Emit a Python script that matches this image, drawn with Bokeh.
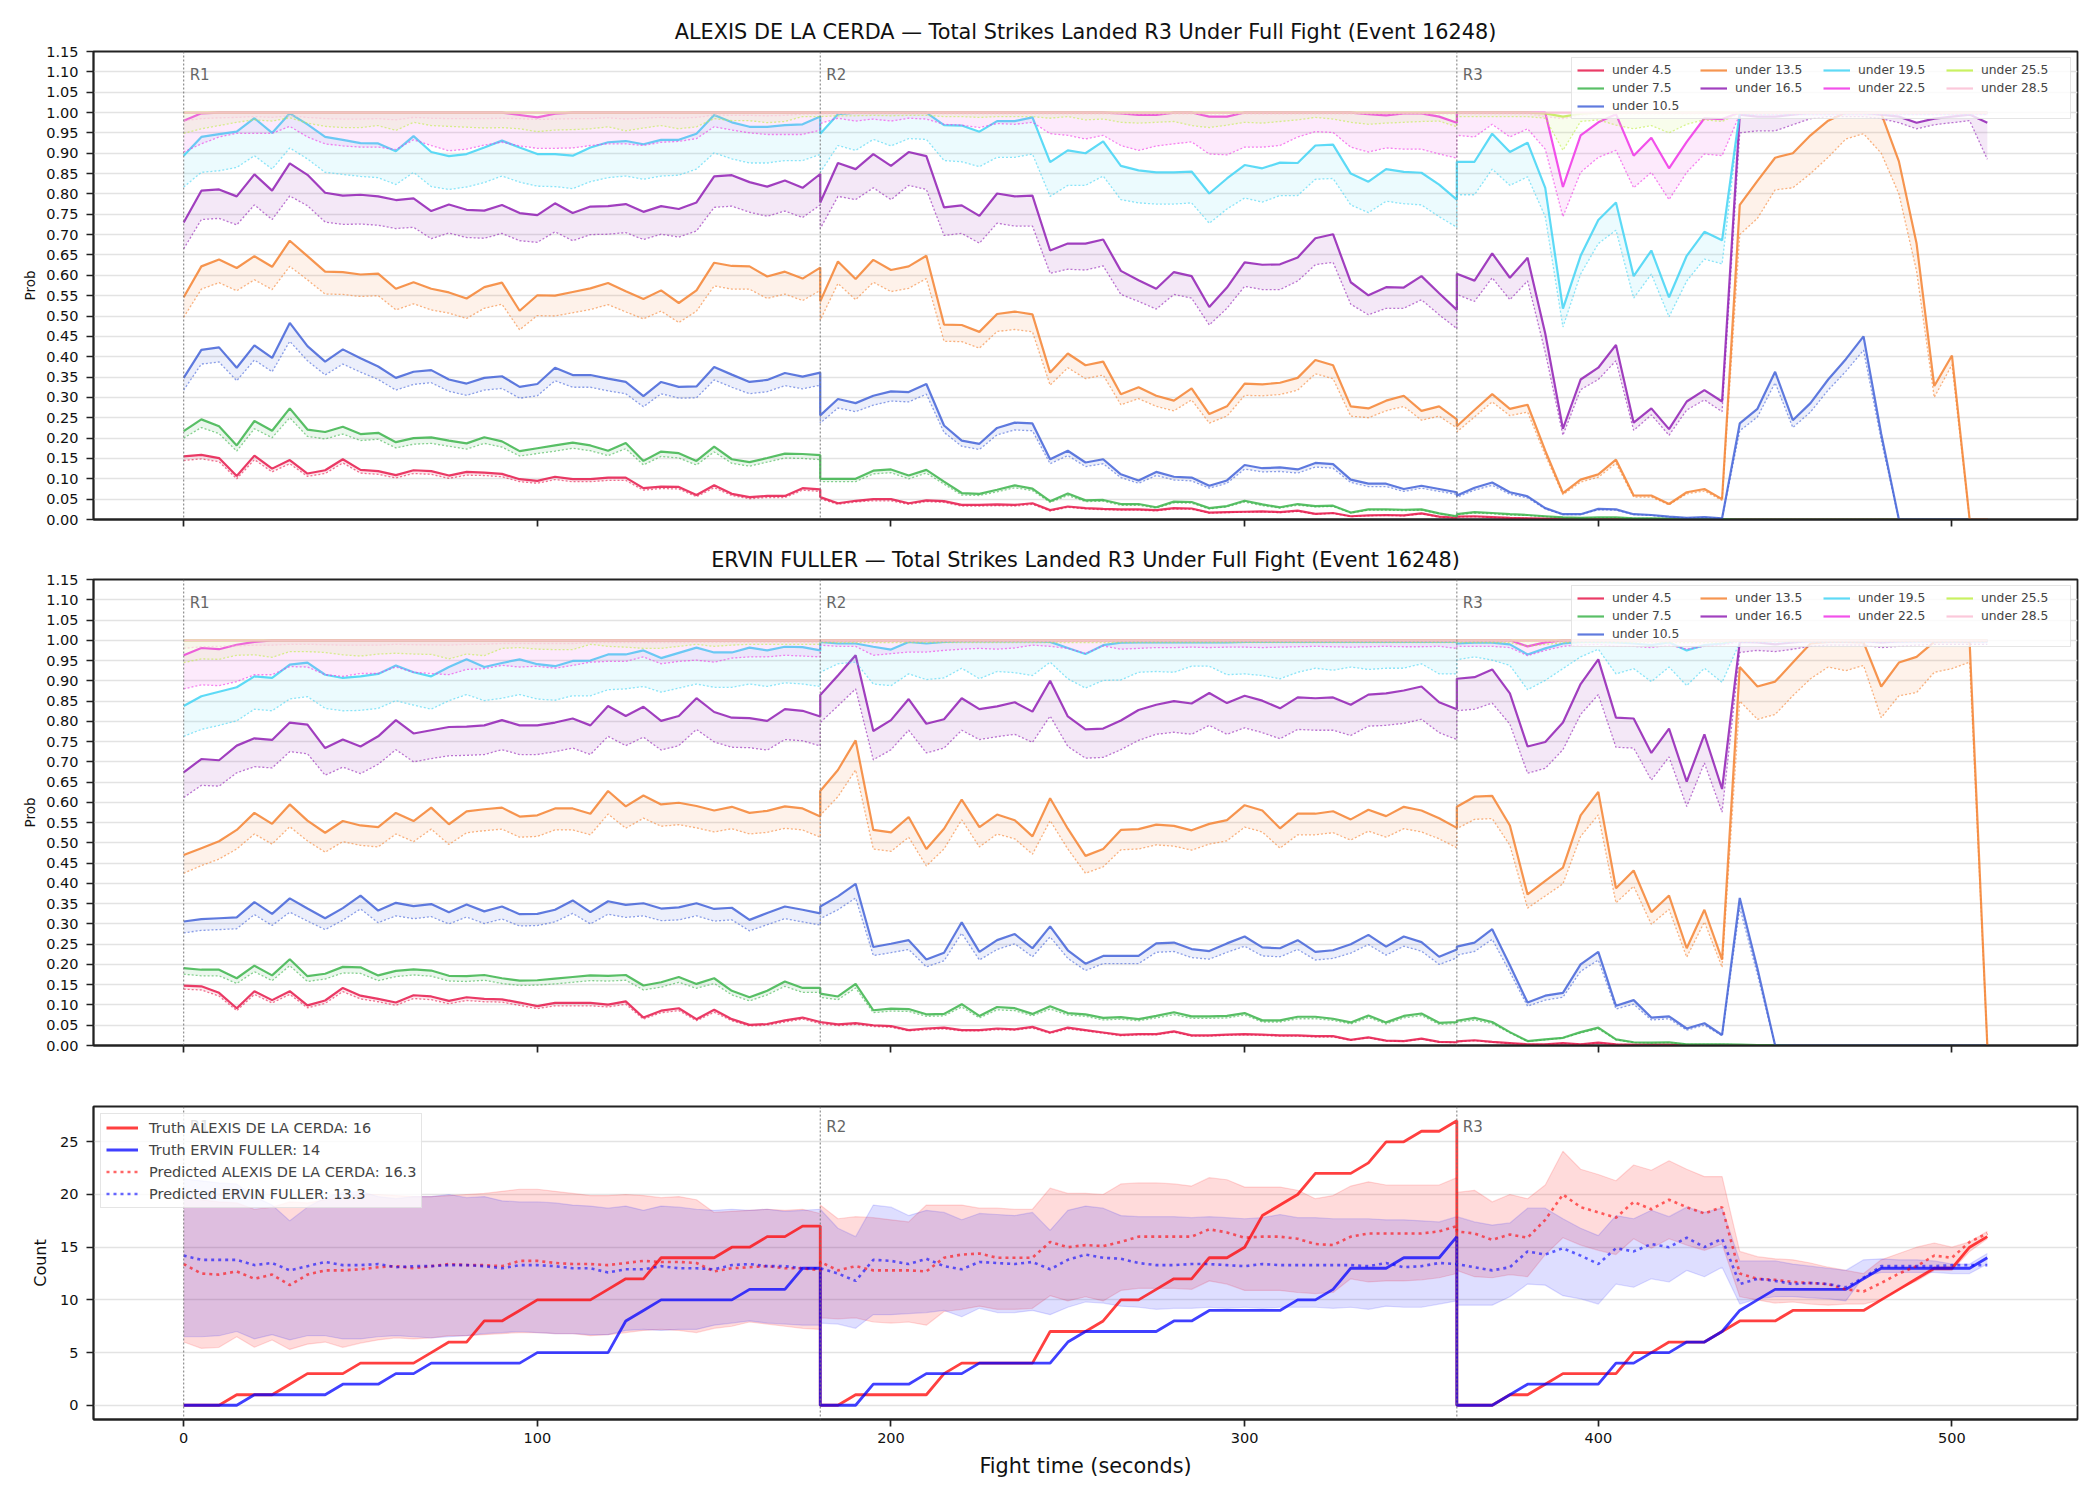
import numpy as np
from bokeh.embed import file_html
from bokeh.layouts import column
from bokeh.models import (CustomJSTickFormatter, FixedTicker, Label, Legend,
                          LegendItem, NumeralTickFormatter, Range1d, Span)
from bokeh.plotting import figure
from bokeh.resources import INLINE

# ---------------------------------------------------------------------------
# Sampling grid: one reading every 5 s, each round restarts at its boundary
# ---------------------------------------------------------------------------
STEP = 5
ROUND_BOUNDS = [(0, 180), (180, 360), (360, 510)]
ROUND_NAMES = ["R1", "R2", "R3"]

FIGHTER_A = "ALEXIS DE LA CERDA"
FIGHTER_E = "ERVIN FULLER"
MARKET = "Total Strikes Landed R3 Under Full Fight"
EVENT_ID = 16248

THRESHOLDS = ["under 4.5", "under 7.5", "under 10.5", "under 13.5", "under 16.5",
              "under 19.5", "under 22.5", "under 25.5", "under 28.5"]
LINE_COLORS = ["#e6194B", "#3cb44b", "#4363d8", "#f58231", "#911eb4",
               "#42d4f4", "#f032e6", "#bfef45", "#fabed4"]

PROB_TICKS = [0.00, 0.05, 0.10, 0.15, 0.20, 0.25, 0.30, 0.35, 0.40, 0.45, 0.50, 0.55,
              0.60, 0.65, 0.70, 0.75, 0.80, 0.85, 0.90, 0.95, 1.00, 1.05, 1.10, 1.15]
COUNT_TICKS = [0, 5, 10, 15, 20, 25]
TIME_TICKS = [0, 100, 200, 300, 400, 500]

# ---------------------------------------------------------------------------
# ALEXIS DE LA CERDA: model probability (solid) and lower estimate (dotted)
# ---------------------------------------------------------------------------
ALEXIS_U4_5 = (
    [0.155, 0.159, 0.151, 0.107, 0.157, 0.125, 0.146, 0.113, 0.121, 0.148, 0.122, 0.119, 0.109,
     0.121, 0.119, 0.108, 0.117, 0.115, 0.112, 0.099, 0.095, 0.105, 0.099, 0.099, 0.103, 0.103,
     0.077, 0.081, 0.080, 0.060, 0.084, 0.063, 0.055, 0.058, 0.058, 0.077, 0.074]
    + [0.055, 0.040, 0.046, 0.050, 0.050, 0.040, 0.047, 0.045, 0.036, 0.036, 0.037, 0.036, 0.040,
       0.023, 0.032, 0.028, 0.026, 0.025, 0.025, 0.023, 0.028, 0.027, 0.017, 0.018, 0.019, 0.020,
       0.018, 0.022, 0.014, 0.016, 0.008, 0.010, 0.011, 0.010, 0.015, 0.007, 0.004]
    + [0.007, 0.008, 0.006, 0.004, 0.003, 0.002, 0.002, 0.002, 0.001, 0.001, 0.001, 0.001]
    + [0.0] * 19
)
ALEXIS_U4_5_LO = (
    [0.145, 0.149, 0.142, 0.100, 0.147, 0.117, 0.137, 0.106, 0.113, 0.139, 0.114, 0.111, 0.102,
     0.113, 0.111, 0.101, 0.109, 0.108, 0.105, 0.093, 0.089, 0.098, 0.093, 0.093, 0.096, 0.096,
     0.072, 0.076, 0.075, 0.056, 0.078, 0.059, 0.051, 0.054, 0.054, 0.072, 0.069]
    + [0.051, 0.037, 0.043, 0.046, 0.046, 0.037, 0.044, 0.042, 0.033, 0.033, 0.034, 0.033, 0.037,
       0.021, 0.030, 0.026, 0.024, 0.023, 0.023, 0.021, 0.026, 0.025, 0.016, 0.017, 0.018, 0.019,
       0.017, 0.020, 0.013, 0.015, 0.007, 0.009, 0.010, 0.009, 0.014, 0.006, 0.004]
    + [0.006, 0.007, 0.005, 0.004, 0.003, 0.002, 0.002, 0.002, 0.001, 0.001, 0.001, 0.001]
    + [0.0] * 19
)
ALEXIS_U7_5 = (
    [0.217, 0.246, 0.229, 0.182, 0.242, 0.218, 0.273, 0.221, 0.215, 0.228, 0.210, 0.213, 0.190,
     0.200, 0.202, 0.194, 0.187, 0.202, 0.192, 0.168, 0.175, 0.182, 0.189, 0.182, 0.169, 0.188,
     0.144, 0.167, 0.163, 0.144, 0.179, 0.148, 0.141, 0.151, 0.162, 0.161, 0.158]
    + [0.100, 0.100, 0.100, 0.120, 0.123, 0.108, 0.122, 0.093, 0.065, 0.063, 0.073, 0.084, 0.076,
       0.045, 0.064, 0.047, 0.048, 0.038, 0.038, 0.030, 0.044, 0.043, 0.028, 0.033, 0.046, 0.037,
       0.030, 0.038, 0.033, 0.034, 0.017, 0.025, 0.025, 0.024, 0.025, 0.015, 0.008]
    + [0.013, 0.018, 0.016, 0.013, 0.011, 0.008, 0.005, 0.004, 0.005, 0.005, 0.003, 0.003, 0.002,
       0.001, 0.001, 0.001]
    + [0.0] * 15
)
ALEXIS_U7_5_LO = (
    [0.200, 0.226, 0.211, 0.168, 0.223, 0.201, 0.250, 0.204, 0.198, 0.210, 0.194, 0.197, 0.176,
     0.185, 0.187, 0.180, 0.173, 0.187, 0.178, 0.156, 0.162, 0.168, 0.175, 0.169, 0.157, 0.174,
     0.134, 0.155, 0.151, 0.134, 0.166, 0.138, 0.131, 0.141, 0.151, 0.150, 0.147]
    + [0.093, 0.093, 0.093, 0.112, 0.115, 0.100, 0.114, 0.087, 0.060, 0.059, 0.068, 0.078, 0.071,
       0.042, 0.059, 0.044, 0.045, 0.035, 0.035, 0.028, 0.041, 0.040, 0.026, 0.031, 0.043, 0.034,
       0.028, 0.035, 0.031, 0.032, 0.016, 0.023, 0.023, 0.022, 0.023, 0.014, 0.007]
    + [0.012, 0.016, 0.014, 0.011, 0.010, 0.007, 0.004, 0.003, 0.004, 0.004, 0.003, 0.003, 0.002,
       0.001, 0.001, 0.001]
    + [0.0] * 15
)
ALEXIS_U10_5 = (
    [0.348, 0.417, 0.423, 0.373, 0.428, 0.397, 0.483, 0.426, 0.388, 0.418, 0.396, 0.376, 0.348,
     0.363, 0.367, 0.344, 0.334, 0.348, 0.352, 0.326, 0.333, 0.373, 0.355, 0.355, 0.346, 0.338,
     0.303, 0.338, 0.326, 0.327, 0.375, 0.356, 0.338, 0.343, 0.360, 0.351, 0.361]
    + [0.256, 0.296, 0.286, 0.304, 0.315, 0.313, 0.333, 0.231, 0.194, 0.186, 0.225, 0.238, 0.236,
       0.148, 0.169, 0.140, 0.148, 0.111, 0.096, 0.117, 0.105, 0.103, 0.083, 0.096, 0.134, 0.126,
       0.128, 0.123, 0.139, 0.136, 0.098, 0.088, 0.088, 0.075, 0.083, 0.075, 0.067]
    + [0.059, 0.078, 0.091, 0.067, 0.057, 0.028, 0.013, 0.013, 0.026, 0.025, 0.013, 0.011, 0.007,
       0.004, 0.006, 0.003, 0.236, 0.272, 0.363, 0.244, 0.286, 0.344, 0.394, 0.450, 0.210,
       0.0, 0.0, 0.0, 0.0, 0.0, 0.0]
)
ALEXIS_U10_5_LO = (
    [0.318, 0.382, 0.387, 0.341, 0.392, 0.363, 0.438, 0.390, 0.355, 0.382, 0.362, 0.344, 0.318,
     0.332, 0.336, 0.315, 0.305, 0.318, 0.322, 0.298, 0.304, 0.341, 0.325, 0.325, 0.316, 0.309,
     0.277, 0.309, 0.298, 0.299, 0.343, 0.325, 0.309, 0.314, 0.329, 0.321, 0.330]
    + [0.237, 0.274, 0.265, 0.281, 0.291, 0.289, 0.308, 0.214, 0.180, 0.172, 0.208, 0.220, 0.218,
       0.137, 0.157, 0.130, 0.137, 0.103, 0.089, 0.108, 0.097, 0.095, 0.077, 0.089, 0.124, 0.117,
       0.118, 0.114, 0.129, 0.126, 0.091, 0.081, 0.081, 0.069, 0.077, 0.069, 0.062]
    + [0.055, 0.072, 0.084, 0.062, 0.053, 0.026, 0.012, 0.012, 0.024, 0.023, 0.012, 0.010, 0.006,
       0.004, 0.005, 0.003, 0.218, 0.252, 0.336, 0.226, 0.264, 0.318, 0.364, 0.416, 0.195,
       0.0, 0.0, 0.0, 0.0, 0.0, 0.0]
)
ALEXIS_U13_5 = (
    [0.546, 0.622, 0.639, 0.618, 0.647, 0.621, 0.685, 0.647, 0.609, 0.608, 0.602, 0.604, 0.567,
     0.583, 0.567, 0.558, 0.543, 0.571, 0.582, 0.513, 0.551, 0.550, 0.559, 0.568, 0.581, 0.561,
     0.542, 0.563, 0.532, 0.563, 0.631, 0.623, 0.622, 0.597, 0.609, 0.592, 0.619]
    + [0.536, 0.634, 0.591, 0.638, 0.613, 0.622, 0.648, 0.479, 0.478, 0.461, 0.505, 0.511, 0.504,
       0.361, 0.408, 0.379, 0.388, 0.308, 0.325, 0.304, 0.292, 0.322, 0.259, 0.278, 0.334, 0.332,
       0.336, 0.348, 0.392, 0.379, 0.278, 0.273, 0.292, 0.304, 0.267, 0.278, 0.246]
    + [0.229, 0.269, 0.308, 0.272, 0.282, 0.169, 0.065, 0.098, 0.111, 0.147, 0.059, 0.059, 0.038,
       0.067, 0.075, 0.050, 0.773, 0.832, 0.889, 0.900, 0.944, 0.980, 1.000, 1.000, 0.998,
       0.880, 0.678, 0.328, 0.403, 0.0, 0.0]
)
ALEXIS_U13_5_LO = (
    [0.497, 0.566, 0.582, 0.562, 0.589, 0.565, 0.622, 0.589, 0.554, 0.553, 0.548, 0.550, 0.515,
     0.530, 0.515, 0.507, 0.494, 0.519, 0.529, 0.466, 0.501, 0.500, 0.508, 0.516, 0.528, 0.510,
     0.493, 0.512, 0.484, 0.512, 0.574, 0.566, 0.566, 0.543, 0.554, 0.538, 0.563]
    + [0.490, 0.580, 0.540, 0.583, 0.560, 0.568, 0.592, 0.438, 0.437, 0.421, 0.462, 0.467, 0.461,
       0.330, 0.373, 0.346, 0.355, 0.282, 0.297, 0.278, 0.267, 0.294, 0.237, 0.254, 0.305, 0.304,
       0.307, 0.318, 0.358, 0.346, 0.254, 0.250, 0.267, 0.278, 0.244, 0.254, 0.225]
    + [0.215, 0.252, 0.289, 0.255, 0.264, 0.158, 0.061, 0.092, 0.104, 0.138, 0.055, 0.055, 0.036,
       0.063, 0.070, 0.047, 0.700, 0.740, 0.810, 0.815, 0.850, 0.890, 0.935, 0.948, 0.900,
       0.800, 0.610, 0.300, 0.380, 0.0, 0.0]
)
ALEXIS_U16_5 = (
    [0.730, 0.808, 0.811, 0.794, 0.848, 0.808, 0.875, 0.847, 0.803, 0.796, 0.798, 0.794, 0.785,
     0.789, 0.758, 0.774, 0.761, 0.759, 0.773, 0.753, 0.748, 0.777, 0.753, 0.769, 0.770, 0.775,
     0.756, 0.770, 0.763, 0.779, 0.843, 0.846, 0.829, 0.818, 0.833, 0.815, 0.849]
    + [0.779, 0.876, 0.861, 0.898, 0.869, 0.903, 0.893, 0.767, 0.772, 0.746, 0.801, 0.794, 0.796,
       0.661, 0.678, 0.678, 0.688, 0.611, 0.588, 0.567, 0.608, 0.598, 0.522, 0.570, 0.632, 0.626,
       0.627, 0.644, 0.691, 0.701, 0.583, 0.551, 0.571, 0.570, 0.598, 0.556, 0.515]
    + [0.604, 0.587, 0.654, 0.594, 0.643, 0.457, 0.223, 0.344, 0.373, 0.429, 0.238, 0.273, 0.222,
       0.290, 0.318, 0.290, 0.995, 0.990, 0.990, 0.995, 1.000, 1.000, 1.000, 1.000, 0.995,
       0.990, 0.975, 0.985, 0.990, 0.995, 0.975]
)
ALEXIS_U16_5_LO = (
    [0.665, 0.737, 0.740, 0.724, 0.773, 0.737, 0.795, 0.771, 0.731, 0.725, 0.726, 0.723, 0.715,
     0.718, 0.690, 0.704, 0.693, 0.691, 0.703, 0.685, 0.681, 0.707, 0.685, 0.700, 0.701, 0.705,
     0.688, 0.701, 0.694, 0.709, 0.767, 0.770, 0.755, 0.745, 0.758, 0.742, 0.773]
    + [0.715, 0.794, 0.786, 0.815, 0.786, 0.821, 0.811, 0.698, 0.703, 0.679, 0.728, 0.721, 0.721,
       0.605, 0.615, 0.613, 0.623, 0.553, 0.536, 0.517, 0.553, 0.544, 0.478, 0.519, 0.573, 0.565,
       0.565, 0.586, 0.626, 0.632, 0.529, 0.503, 0.519, 0.519, 0.540, 0.503, 0.469]
    + [0.553, 0.536, 0.594, 0.540, 0.586, 0.411, 0.207, 0.319, 0.344, 0.390, 0.219, 0.257, 0.207,
       0.269, 0.294, 0.265, 0.950, 0.955, 0.955, 0.970, 0.985, 0.990, 0.990, 0.990, 0.985,
       0.975, 0.960, 0.970, 0.975, 0.980, 0.885]
)
ALEXIS_U19_5 = (
    [0.894, 0.940, 0.947, 0.953, 0.986, 0.950, 0.998, 0.971, 0.940, 0.933, 0.925, 0.924, 0.905,
     0.942, 0.903, 0.893, 0.898, 0.914, 0.931, 0.914, 0.898, 0.898, 0.894, 0.914, 0.927, 0.930,
     0.922, 0.933, 0.933, 0.948, 0.994, 0.976, 0.965, 0.965, 0.969, 0.971, 0.990]
    + [0.948, 0.996, 1.000, 1.000, 1.000, 1.000, 1.000, 0.969, 0.968, 0.953, 0.979, 0.979, 0.988,
       0.878, 0.907, 0.900, 0.929, 0.869, 0.858, 0.853, 0.853, 0.855, 0.801, 0.838, 0.871, 0.863,
       0.877, 0.876, 0.919, 0.921, 0.850, 0.830, 0.861, 0.854, 0.852, 0.823, 0.786]
    + [0.879, 0.879, 0.948, 0.903, 0.926, 0.815, 0.518, 0.648, 0.736, 0.779, 0.598, 0.661, 0.546,
       0.648, 0.707, 0.686]
    + [1.0] * 15
)
ALEXIS_U19_5_LO = (
    [0.817, 0.853, 0.857, 0.865, 0.894, 0.861, 0.913, 0.886, 0.853, 0.848, 0.843, 0.840, 0.823,
     0.853, 0.818, 0.811, 0.817, 0.828, 0.844, 0.829, 0.819, 0.818, 0.813, 0.830, 0.840, 0.844,
     0.836, 0.844, 0.846, 0.861, 0.901, 0.886, 0.876, 0.876, 0.882, 0.882, 0.897]
    + [0.853, 0.919, 0.907, 0.934, 0.918, 0.936, 0.934, 0.882, 0.879, 0.867, 0.890, 0.890, 0.898,
       0.794, 0.821, 0.821, 0.844, 0.786, 0.778, 0.775, 0.775, 0.778, 0.728, 0.763, 0.790, 0.780,
       0.796, 0.796, 0.836, 0.838, 0.773, 0.754, 0.782, 0.776, 0.773, 0.744, 0.718]
    + [0.798, 0.798, 0.861, 0.821, 0.842, 0.744, 0.473, 0.603, 0.678, 0.711, 0.544, 0.603, 0.498,
       0.586, 0.640, 0.628]
    + [0.995] * 15
)
ALEXIS_U22_5 = (
    [0.980, 0.998] + [1.0] * 17 + [0.994, 0.988, 0.997] + [1.0] * 15
    + [1.0] * 17 + [0.998, 0.994, 0.994, 1.000, 1.000, 0.990, 0.990] + [1.0] * 7
    + [0.996, 0.993, 0.998, 0.998, 0.990, 0.975]
    + [1.0] * 6 + [0.817, 0.944, 0.976, 0.996, 0.894, 0.938, 0.863, 0.928, 0.986, 0.984]
    + [1.0] * 15
)
ALEXIS_U22_5_LO = (
    [0.903, 0.923, 0.940, 0.949, 0.949, 0.949, 0.966, 0.940, 0.923, 0.918, 0.915, 0.915, 0.909,
     0.933, 0.919, 0.906, 0.910, 0.920, 0.927, 0.918, 0.912, 0.912, 0.913, 0.919, 0.923, 0.923,
     0.919, 0.927, 0.929, 0.936, 0.965, 0.957, 0.950, 0.946, 0.946, 0.946, 0.957]
    + [0.973, 0.986, 0.979, 0.984, 0.979, 0.986, 0.984, 0.971, 0.969, 0.963, 0.973, 0.971, 0.976,
       0.948, 0.944, 0.935, 0.944, 0.919, 0.907, 0.918, 0.923, 0.928, 0.898, 0.896, 0.915, 0.915,
       0.919, 0.940, 0.953, 0.951, 0.915, 0.903, 0.913, 0.910, 0.910, 0.898, 0.888]
    + [0.944, 0.940, 0.971, 0.940, 0.960, 0.910, 0.744, 0.853, 0.890, 0.907, 0.815, 0.853, 0.786,
       0.853, 0.898, 0.894]
    + [0.995] * 15
)
ALEXIS_U25_5 = [1.0] * 37 + [1.0] * 37 + [1.0] * 5 + [0.998, 0.990, 0.997] + [1.0] * 23
ALEXIS_U25_5_LO = (
    [0.949, 0.960, 0.968, 0.976, 0.982, 0.979, 0.987, 0.974, 0.966, 0.963, 0.963, 0.968, 0.956,
     0.976, 0.968, 0.966, 0.964, 0.962, 0.963, 0.960, 0.953, 0.957, 0.958, 0.960, 0.965, 0.955,
     0.962, 0.968, 0.960, 0.965, 0.985, 0.980, 0.980, 0.975, 0.978, 0.990, 0.990]
    + [0.990, 0.992, 0.992, 0.993, 0.992, 0.993, 0.993, 0.990, 0.990, 0.988, 0.990, 0.990, 0.990,
       0.986, 0.990, 0.982, 0.984, 0.976, 0.974, 0.976, 0.978, 0.968, 0.963, 0.969, 0.976, 0.974,
       0.978, 0.982, 0.988, 0.984, 0.976, 0.971, 0.974, 0.976, 0.978, 0.979, 0.965]
    + [0.990, 0.990, 0.990, 0.990, 0.990, 0.986, 0.907, 0.978, 0.982, 0.969, 0.960, 0.968, 0.950,
       0.971, 0.982, 0.978]
    + [0.998] * 15
)
ALEXIS_U28_5 = [1.0] * 105
ALEXIS_U28_5_LO = (
    [0.980, 0.985, 0.987, 0.988, 0.990, 0.988, 0.992, 0.988, 0.985, 0.984, 0.984, 0.985, 0.982,
     0.988, 0.986, 0.985, 0.985, 0.985, 0.986, 0.985, 0.983, 0.984, 0.985, 0.985, 0.987, 0.984,
     0.986, 0.988, 0.986, 0.988, 0.994, 0.993, 0.993, 0.992, 0.993, 0.996, 0.996]
    + [0.997] * 37
    + [0.997] * 5 + [0.990, 0.985, 0.993] + [0.997] * 8 + [0.999] * 15
)

# ---------------------------------------------------------------------------
# ERVIN FULLER
# ---------------------------------------------------------------------------
ERVIN_U4_5 = (
    [0.148, 0.146, 0.130, 0.092, 0.134, 0.112, 0.134, 0.099, 0.111, 0.142, 0.123, 0.115, 0.106,
     0.124, 0.121, 0.110, 0.119, 0.115, 0.114, 0.106, 0.097, 0.105, 0.105, 0.105, 0.101, 0.109,
     0.069, 0.086, 0.092, 0.065, 0.088, 0.065, 0.051, 0.053, 0.062, 0.069, 0.058]
    + [0.058, 0.052, 0.055, 0.050, 0.048, 0.038, 0.042, 0.044, 0.038, 0.038, 0.042, 0.040, 0.046,
       0.032, 0.044, 0.038, 0.032, 0.026, 0.028, 0.028, 0.035, 0.025, 0.025, 0.027, 0.028, 0.027,
       0.025, 0.025, 0.023, 0.023, 0.014, 0.020, 0.012, 0.011, 0.017, 0.009, 0.008]
    + [0.010, 0.013, 0.009, 0.006, 0.003, 0.003, 0.006, 0.003, 0.007, 0.003, 0.002, 0.002, 0.002,
       0.001, 0.001, 0.001, 0.001]
    + [0.0] * 14
)
ERVIN_U4_5_LO = (
    [0.139, 0.137, 0.122, 0.086, 0.126, 0.105, 0.126, 0.093, 0.104, 0.133, 0.115, 0.108, 0.099,
     0.116, 0.113, 0.103, 0.111, 0.108, 0.107, 0.099, 0.091, 0.098, 0.098, 0.098, 0.095, 0.102,
     0.065, 0.081, 0.086, 0.061, 0.082, 0.061, 0.048, 0.050, 0.058, 0.065, 0.054]
    + [0.054, 0.049, 0.052, 0.047, 0.045, 0.036, 0.039, 0.041, 0.036, 0.036, 0.039, 0.038, 0.043,
       0.030, 0.041, 0.036, 0.030, 0.024, 0.026, 0.026, 0.033, 0.023, 0.023, 0.025, 0.026, 0.025,
       0.023, 0.023, 0.021, 0.021, 0.013, 0.019, 0.011, 0.010, 0.016, 0.008, 0.007]
    + [0.009, 0.012, 0.008, 0.005, 0.003, 0.003, 0.005, 0.003, 0.006, 0.003, 0.002, 0.002, 0.002,
       0.001, 0.001, 0.001, 0.001]
    + [0.0] * 14
)
ERVIN_U7_5 = (
    [0.191, 0.187, 0.187, 0.166, 0.197, 0.173, 0.213, 0.171, 0.177, 0.194, 0.193, 0.173, 0.184,
     0.188, 0.185, 0.172, 0.171, 0.174, 0.166, 0.160, 0.161, 0.165, 0.169, 0.173, 0.172, 0.174,
     0.148, 0.156, 0.169, 0.152, 0.166, 0.135, 0.119, 0.135, 0.158, 0.142, 0.142]
    + [0.128, 0.121, 0.152, 0.087, 0.091, 0.090, 0.077, 0.078, 0.102, 0.073, 0.095, 0.092, 0.078,
       0.097, 0.080, 0.077, 0.068, 0.070, 0.065, 0.073, 0.082, 0.072, 0.072, 0.073, 0.080, 0.062,
       0.062, 0.071, 0.071, 0.066, 0.057, 0.074, 0.057, 0.073, 0.079, 0.056, 0.058]
    + [0.061, 0.068, 0.058, 0.033, 0.011, 0.015, 0.019, 0.033, 0.044, 0.015, 0.008, 0.007, 0.008,
       0.003, 0.003, 0.003, 0.002, 0.001, 0.001]
    + [0.0] * 12
)
ERVIN_U7_5_LO = (
    [0.176, 0.172, 0.172, 0.153, 0.182, 0.160, 0.197, 0.158, 0.164, 0.179, 0.178, 0.160, 0.170,
     0.174, 0.171, 0.159, 0.158, 0.161, 0.153, 0.148, 0.149, 0.152, 0.156, 0.160, 0.159, 0.161,
     0.137, 0.144, 0.156, 0.141, 0.153, 0.125, 0.110, 0.125, 0.146, 0.131, 0.131]
    + [0.119, 0.113, 0.142, 0.081, 0.085, 0.084, 0.072, 0.073, 0.095, 0.068, 0.088, 0.086, 0.073,
       0.090, 0.075, 0.072, 0.063, 0.065, 0.061, 0.068, 0.076, 0.067, 0.067, 0.068, 0.075, 0.058,
       0.058, 0.066, 0.066, 0.062, 0.053, 0.069, 0.053, 0.068, 0.074, 0.052, 0.054]
    + [0.057, 0.063, 0.054, 0.031, 0.010, 0.014, 0.018, 0.031, 0.041, 0.014, 0.007, 0.006, 0.007,
       0.003, 0.003, 0.003, 0.002, 0.001, 0.001]
    + [0.0] * 12
)
ERVIN_U10_5 = (
    [0.306, 0.312, 0.314, 0.316, 0.354, 0.325, 0.363, 0.338, 0.314, 0.339, 0.370, 0.333, 0.352,
     0.344, 0.349, 0.329, 0.348, 0.331, 0.343, 0.324, 0.325, 0.335, 0.358, 0.329, 0.356, 0.347,
     0.351, 0.338, 0.341, 0.351, 0.337, 0.340, 0.310, 0.327, 0.343, 0.335, 0.326]
    + [0.343, 0.368, 0.399, 0.243, 0.251, 0.260, 0.212, 0.229, 0.304, 0.231, 0.260, 0.275, 0.240,
       0.294, 0.235, 0.202, 0.221, 0.221, 0.221, 0.252, 0.254, 0.238, 0.233, 0.252, 0.269, 0.242,
       0.240, 0.260, 0.231, 0.235, 0.250, 0.273, 0.244, 0.269, 0.255, 0.219, 0.237]
    + [0.244, 0.254, 0.287, 0.198, 0.106, 0.123, 0.130, 0.200, 0.231, 0.098, 0.112, 0.069, 0.072,
       0.042, 0.055, 0.026, 0.364, 0.190]
    + [0.0] * 13
)
ERVIN_U10_5_LO = (
    [0.278, 0.284, 0.286, 0.288, 0.323, 0.296, 0.329, 0.307, 0.286, 0.309, 0.337, 0.303, 0.320,
     0.313, 0.318, 0.300, 0.317, 0.301, 0.312, 0.295, 0.296, 0.305, 0.326, 0.300, 0.324, 0.316,
     0.320, 0.308, 0.310, 0.320, 0.307, 0.310, 0.283, 0.298, 0.313, 0.305, 0.297]
    + [0.313, 0.335, 0.364, 0.222, 0.229, 0.237, 0.194, 0.209, 0.277, 0.211, 0.237, 0.251, 0.219,
       0.268, 0.215, 0.185, 0.202, 0.202, 0.202, 0.230, 0.232, 0.217, 0.213, 0.230, 0.245, 0.221,
       0.219, 0.237, 0.211, 0.215, 0.228, 0.249, 0.223, 0.245, 0.233, 0.200, 0.216]
    + [0.223, 0.232, 0.262, 0.181, 0.097, 0.112, 0.119, 0.183, 0.211, 0.090, 0.102, 0.063, 0.066,
       0.038, 0.050, 0.024, 0.340, 0.175]
    + [0.0] * 13
)
ERVIN_U13_5 = (
    [0.470, 0.487, 0.504, 0.532, 0.574, 0.547, 0.595, 0.555, 0.525, 0.554, 0.543, 0.539, 0.574,
     0.554, 0.587, 0.546, 0.578, 0.583, 0.587, 0.565, 0.568, 0.585, 0.585, 0.572, 0.628, 0.590,
     0.617, 0.595, 0.599, 0.591, 0.580, 0.589, 0.574, 0.579, 0.590, 0.585, 0.565]
    + [0.628, 0.680, 0.753, 0.532, 0.526, 0.564, 0.485, 0.535, 0.607, 0.539, 0.570, 0.556, 0.516,
       0.610, 0.535, 0.468, 0.485, 0.532, 0.534, 0.545, 0.542, 0.531, 0.547, 0.556, 0.593, 0.580,
       0.536, 0.572, 0.572, 0.578, 0.558, 0.582, 0.566, 0.589, 0.580, 0.561, 0.537]
    + [0.589, 0.614, 0.616, 0.543, 0.373, 0.406, 0.439, 0.568, 0.626, 0.388, 0.432, 0.329, 0.370,
       0.240, 0.335, 0.212, 0.934, 0.886, 0.898, 0.945, 0.992, 0.996, 0.996, 0.995, 0.886,
       0.945, 0.959, 0.996, 0.998, 0.996, 0.0]
)
ERVIN_U13_5_LO = (
    [0.425, 0.444, 0.460, 0.485, 0.522, 0.497, 0.540, 0.505, 0.477, 0.503, 0.494, 0.490, 0.522,
     0.503, 0.534, 0.496, 0.525, 0.530, 0.534, 0.514, 0.516, 0.532, 0.532, 0.520, 0.571, 0.536,
     0.561, 0.541, 0.545, 0.537, 0.527, 0.535, 0.522, 0.526, 0.536, 0.532, 0.514]
    + [0.568, 0.614, 0.680, 0.485, 0.479, 0.514, 0.443, 0.485, 0.557, 0.490, 0.522, 0.510, 0.472,
       0.555, 0.485, 0.425, 0.441, 0.483, 0.485, 0.495, 0.492, 0.482, 0.497, 0.505, 0.539, 0.527,
       0.487, 0.520, 0.520, 0.525, 0.507, 0.529, 0.514, 0.535, 0.527, 0.510, 0.488]
    + [0.535, 0.558, 0.560, 0.494, 0.339, 0.369, 0.399, 0.516, 0.569, 0.352, 0.393, 0.299, 0.336,
       0.218, 0.305, 0.193, 0.850, 0.805, 0.817, 0.863, 0.905, 0.934, 0.925, 0.938, 0.809,
       0.863, 0.871, 0.921, 0.930, 0.946, 0.0]
)
ERVIN_U16_5 = (
    [0.674, 0.707, 0.704, 0.740, 0.758, 0.754, 0.797, 0.792, 0.734, 0.755, 0.738, 0.763, 0.803,
     0.770, 0.778, 0.786, 0.787, 0.790, 0.803, 0.790, 0.790, 0.797, 0.807, 0.790, 0.838, 0.813,
     0.836, 0.801, 0.813, 0.857, 0.823, 0.809, 0.808, 0.801, 0.830, 0.826, 0.812]
    + [0.865, 0.913, 0.963, 0.776, 0.803, 0.855, 0.794, 0.805, 0.857, 0.830, 0.837, 0.847, 0.824,
       0.900, 0.812, 0.780, 0.782, 0.802, 0.828, 0.841, 0.850, 0.844, 0.870, 0.845, 0.863, 0.851,
       0.832, 0.859, 0.857, 0.859, 0.841, 0.866, 0.869, 0.876, 0.886, 0.847, 0.830]
    + [0.905, 0.909, 0.928, 0.869, 0.738, 0.749, 0.797, 0.892, 0.953, 0.809, 0.807, 0.722, 0.782,
       0.651, 0.768, 0.633, 0.996, 0.995, 0.990, 0.995, 0.998, 0.998, 0.998, 0.998, 0.995,
       0.997, 0.998, 0.998, 0.998, 0.998, 0.998]
)
ERVIN_U16_5_LO = (
    [0.612, 0.642, 0.640, 0.673, 0.688, 0.685, 0.725, 0.720, 0.667, 0.687, 0.671, 0.694, 0.730,
     0.700, 0.708, 0.715, 0.716, 0.718, 0.730, 0.718, 0.718, 0.725, 0.734, 0.718, 0.763, 0.740,
     0.761, 0.729, 0.740, 0.780, 0.749, 0.736, 0.735, 0.729, 0.755, 0.752, 0.739]
    + [0.797, 0.838, 0.880, 0.705, 0.730, 0.778, 0.722, 0.734, 0.778, 0.755, 0.762, 0.768, 0.748,
       0.813, 0.738, 0.709, 0.711, 0.730, 0.753, 0.768, 0.773, 0.768, 0.790, 0.768, 0.784, 0.772,
       0.757, 0.780, 0.778, 0.778, 0.765, 0.788, 0.790, 0.795, 0.805, 0.772, 0.755]
    + [0.826, 0.830, 0.845, 0.793, 0.672, 0.684, 0.730, 0.817, 0.866, 0.736, 0.734, 0.655, 0.712,
       0.590, 0.697, 0.576, 0.970, 0.975, 0.972, 0.978, 0.985, 0.988, 0.988, 0.988, 0.982,
       0.985, 0.988, 0.990, 0.990, 0.990, 0.990]
)
ERVIN_U19_5 = (
    [0.838, 0.862, 0.873, 0.884, 0.911, 0.907, 0.940, 0.945, 0.915, 0.907, 0.911, 0.917, 0.938,
     0.921, 0.911, 0.934, 0.953, 0.934, 0.944, 0.953, 0.941, 0.936, 0.949, 0.950, 0.965, 0.965,
     0.975, 0.956, 0.969, 0.982, 0.970, 0.970, 0.982, 0.975, 0.984, 0.983, 0.975]
    + [0.996, 0.992, 0.992, 0.984, 0.977, 0.996, 0.992, 0.996, 0.997, 0.997, 0.997, 0.997, 0.997,
       0.996, 0.981, 0.966, 0.988, 0.994] + [0.995] * 6 + [0.996] * 13
    + [0.992, 0.994, 0.994, 0.990, 0.965, 0.980, 0.992, 0.996, 0.996, 0.995, 0.992, 0.988, 0.995,
       0.975, 0.988, 0.992]
    + [1.0] * 15
)
ERVIN_U19_5_LO = (
    [0.763, 0.780, 0.790, 0.801, 0.830, 0.826, 0.855, 0.861, 0.832, 0.826, 0.827, 0.832, 0.851,
     0.840, 0.830, 0.851, 0.866, 0.851, 0.857, 0.866, 0.855, 0.852, 0.863, 0.863, 0.878, 0.880,
     0.886, 0.872, 0.882, 0.892, 0.884, 0.884, 0.892, 0.886, 0.895, 0.892, 0.886]
    + [0.921, 0.942, 0.946, 0.892, 0.888, 0.917, 0.903, 0.907, 0.931, 0.905, 0.923, 0.920, 0.913,
       0.946, 0.905, 0.882, 0.901, 0.902, 0.921, 0.923, 0.921, 0.936, 0.936, 0.915, 0.917, 0.913,
       0.905, 0.921, 0.931, 0.926, 0.934, 0.928, 0.931, 0.931, 0.942, 0.917, 0.917]
    + [0.952, 0.959, 0.951, 0.938, 0.878, 0.901, 0.930, 0.959, 0.978, 0.917, 0.930, 0.898, 0.934,
       0.888, 0.931, 0.896]
    + [0.995] * 15
)
ERVIN_U22_5 = (
    [0.963, 0.981, 0.978, 0.989, 0.996] + [1.0] * 32
    + [1.0] * 37
    + [1.0] * 4 + [0.985, 0.995] + [1.0] * 25
)
ERVIN_U22_5_LO = (
    [0.880, 0.890, 0.888, 0.898, 0.915, 0.915, 0.935, 0.934, 0.915, 0.911, 0.918, 0.918, 0.934,
     0.921, 0.918, 0.915, 0.928, 0.930, 0.938, 0.934, 0.936, 0.931, 0.938, 0.946, 0.948, 0.948,
     0.959, 0.942, 0.948, 0.951, 0.946, 0.956, 0.959, 0.959, 0.963, 0.961, 0.959]
    + [0.988, 0.985, 0.985, 0.963, 0.967, 0.971, 0.971, 0.975, 0.978, 0.980, 0.978, 0.981, 0.988,
       0.985, 0.980, 0.967, 0.986, 0.978, 0.980, 0.982, 0.982, 0.983, 0.982, 0.983, 0.983, 0.982,
       0.983, 0.984, 0.985, 0.984, 0.983, 0.984, 0.985, 0.984, 0.984, 0.985, 0.980]
    + [0.985, 0.985, 0.985, 0.982, 0.962, 0.975, 0.985, 0.988, 0.990, 0.985, 0.985, 0.982, 0.988,
       0.978, 0.985, 0.988]
    + [0.997] * 15
)
ERVIN_U25_5 = [1.0] * 105
ERVIN_U25_5_LO = (
    [0.945, 0.954, 0.953, 0.963, 0.964, 0.958, 0.972, 0.972, 0.970, 0.964, 0.961, 0.966, 0.968,
     0.966, 0.965, 0.954, 0.966, 0.962, 0.980, 0.982, 0.978, 0.977, 0.977, 0.990, 0.985, 0.983,
     0.980, 0.980, 0.985, 0.990, 0.985, 0.988, 0.990, 0.990, 0.990, 0.990, 0.990]
    + [0.994] * 37
    + [0.994] * 4 + [0.985, 0.990] + [0.994] * 10 + [0.998] * 15
)
ERVIN_U28_5 = [1.0] * 105
ERVIN_U28_5_LO = (
    [0.980, 0.984, 0.985, 0.986, 0.988, 0.988, 0.990, 0.990, 0.989, 0.988, 0.988, 0.988, 0.990,
     0.989, 0.989, 0.988, 0.990, 0.990, 0.992, 0.992, 0.992, 0.992, 0.992, 0.994, 0.994, 0.994,
     0.994, 0.994, 0.994, 0.995, 0.995, 0.995, 0.995, 0.995, 0.995, 0.995, 0.995]
    + [0.997] * 37
    + [0.997] * 16 + [0.999] * 15
)

# ---------------------------------------------------------------------------
# Strike counts: truth, predicted mean and prediction band
# ---------------------------------------------------------------------------
TRUTH_A = ([0, 0, 0, 1, 1, 1, 2, 3, 3, 3, 4, 4, 4, 4, 5, 6, 6, 8, 8, 9, 10, 10, 10, 10, 11, 12,
            12, 14, 14, 14, 14, 15, 15, 16, 16, 17, 17]
           + [0, 0, 1, 1, 1, 1, 1, 3, 4, 4, 4, 4, 4, 7, 7, 7, 8, 10, 10, 11, 12, 12, 14, 14, 15,
              18, 19, 20, 22, 22, 22, 23, 25, 25, 26, 26, 27]
           + [0, 0, 0, 1, 1, 2, 3, 3, 3, 3, 5, 5, 6, 6, 6, 7, 8, 8, 8, 9, 9, 9, 9, 9, 10, 11, 12,
              13, 13, 15, 16])
TRUTH_E = ([0, 0, 0, 0, 1, 1, 1, 1, 1, 2, 2, 2, 3, 3, 4, 4, 4, 4, 4, 4, 5, 5, 5, 5, 5, 8, 9,
            10, 10, 10, 10, 10, 11, 11, 11, 13, 13]
           + [0, 0, 0, 2, 2, 2, 3, 3, 3, 4, 4, 4, 4, 4, 6, 7, 7, 7, 7, 7, 8, 8, 9, 9, 9, 9, 9, 10,
              10, 11, 13, 13, 13, 14, 14, 14, 16]
           + [0, 0, 0, 1, 2, 2, 2, 2, 2, 4, 4, 5, 5, 6, 6, 7, 9, 10, 11, 11, 11, 11, 11, 12, 13,
              13, 13, 13, 13, 13, 14])
PRED_A = ([13.4, 12.5, 12.4, 12.7, 12.0, 12.4, 11.4, 12.4, 12.8, 12.8, 12.9, 13.1, 13.2, 13.0,
           13.2, 13.4, 13.3, 13.3, 13.2, 13.7, 13.7, 13.5, 13.4, 13.4, 13.3, 13.5, 13.7, 13.6,
           13.6, 13.5, 12.7, 13.0, 13.1, 13.2, 13.0, 13.0, 12.8]
          + [13.6, 12.8, 13.2, 12.8, 12.8, 12.8, 12.7, 14.0, 14.3, 14.4, 14.0, 14.0, 14.0, 15.5,
             15.0, 15.2, 15.1, 15.5, 16.0, 16.0, 16.0, 16.0, 16.7, 16.4, 15.9, 16.0, 16.0, 15.8,
             15.3, 15.2, 16.0, 16.3, 16.3, 16.3, 16.3, 16.5, 17.0]
          + [16.5, 16.3, 15.7, 16.2, 15.9, 17.6, 20.0, 18.8, 18.3, 17.8, 19.3, 18.6, 19.5, 18.8,
             18.2, 18.8, 12.5, 12.0, 11.9, 11.7, 11.6, 11.5, 11.0, 10.8, 11.6, 12.5, 13.2, 14.2,
             14.0, 15.5, 16.3])
PRED_E = ([14.2, 13.8, 13.8, 13.8, 13.3, 13.5, 12.8, 13.2, 13.6, 13.3, 13.3, 13.4, 13.1, 13.2,
           13.2, 13.3, 13.3, 13.2, 13.0, 13.3, 13.3, 13.2, 13.0, 13.0, 12.6, 12.9, 12.9, 13.2,
           13.0, 13.0, 12.9, 13.3, 13.4, 13.2, 13.2, 13.0, 13.0]
          + [13.0, 12.5, 11.8, 13.8, 13.7, 13.4, 13.9, 13.2, 12.9, 13.6, 13.5, 13.4, 13.6, 12.9,
             13.8, 14.3, 14.0, 13.9, 13.5, 13.3, 13.3, 13.4, 13.4, 13.3, 13.2, 13.4, 13.3, 13.3,
             13.3, 13.3, 13.3, 13.2, 13.5, 13.1, 13.2, 13.5, 13.4]
          + [13.4, 13.1, 12.8, 13.1, 14.6, 14.3, 14.9, 14.2, 13.4, 14.9, 14.6, 15.3, 15.0, 15.9,
             15.0, 15.8, 11.5, 12.0, 11.8, 11.5, 11.6, 11.5, 11.2, 12.1, 13.2, 13.2, 13.2, 13.2,
             13.3, 13.3, 13.3])
BAND_A_HI = ([19.8, 19.5, 19.3, 19.2, 18.6, 18.8, 19.3, 19.2, 19.5, 19.7, 20.0, 20.0, 19.9, 19.8,
              19.8, 19.9, 20.0, 20.1, 20.3, 20.5, 20.5, 20.3, 20.1, 19.9, 19.9, 20.0, 19.9, 19.7,
              19.8, 19.5, 18.3, 18.4, 18.5, 18.6, 18.5, 18.6, 18.2]
             + [19.0, 17.7, 17.9, 17.8, 17.6, 17.4, 19.0, 19.0, 19.0, 18.7, 18.7, 18.6, 18.6, 20.6,
                20.1, 20.1, 20.0, 21.0, 21.1, 21.1, 21.0, 20.8, 21.6, 21.4, 20.7, 20.7, 20.7, 20.4,
                19.6, 19.9, 20.8, 21.2, 20.9, 20.9, 20.9, 20.9, 21.6]
             + [20.2, 20.4, 19.3, 20.0, 19.6, 20.9, 24.1, 22.4, 21.9, 21.3, 22.8, 22.3, 23.2, 22.4,
                21.7, 21.7, 14.6, 14.1, 13.9, 13.8, 13.5, 13.1, 12.8, 12.5, 13.8, 14.4, 15.0, 15.4,
                15.0, 15.5, 16.5])
BAND_A_LO = ([6.0, 5.4, 5.5, 6.5, 5.5, 6.2, 5.3, 5.8, 6.0, 5.5, 5.9, 6.2, 6.4, 6.3, 6.4, 6.6,
              6.6, 6.7, 6.8, 6.9, 6.9, 6.8, 6.8, 6.6, 6.7, 6.9, 7.1, 7.2, 7.1, 6.9, 7.3, 7.5, 7.9,
              7.7, 7.5, 7.3, 7.2]
             + [8.3, 8.2, 8.3, 7.9, 7.8, 7.9, 7.6, 8.9, 9.1, 9.4, 9.1, 9.1, 9.2, 10.4, 9.9, 10.3,
                9.9, 10.9, 11.1, 11.1, 11.1, 11.0, 11.8, 11.5, 10.9, 10.9, 10.9, 10.7, 10.6, 10.7,
                12.0, 11.7, 11.8, 11.8, 11.9, 12.1, 12.5]
             + [12.8, 12.2, 12.1, 12.4, 12.2, 14.3, 15.9, 15.2, 14.7, 14.3, 15.8, 14.9, 15.8, 15.2,
                14.7, 15.3, 10.3, 10.0, 9.7, 9.8, 9.6, 9.5, 9.6, 9.6, 10.0, 11.0, 11.8, 12.8, 12.8,
                14.6, 15.8])
BAND_E_HI = ([21.5, 21.3, 21.1, 21.0, 19.8, 19.0, 17.5, 18.8, 19.7, 20.2, 20.3, 19.8, 19.6, 19.8,
              19.8, 20.0, 19.7, 19.8, 19.4, 19.3, 19.3, 19.2, 19.0, 18.9, 18.7, 18.9, 18.5, 18.9,
              18.8, 18.6, 18.5, 18.6, 18.5, 18.6, 18.4, 18.5, 18.6]
             + [18.6, 16.8, 16.0, 19.0, 18.8, 18.0, 18.5, 18.3, 17.6, 18.2, 18.1, 18.0, 18.3, 16.6,
                18.5, 18.9, 18.7, 18.0, 17.9, 17.9, 17.9, 17.8, 17.9, 17.8, 17.7, 17.8, 18.1, 17.8,
                17.8, 17.7, 17.7, 17.7, 17.6, 17.6, 17.5, 17.4, 17.9]
             + [17.9, 17.4, 17.1, 17.3, 18.7, 18.7, 17.7, 16.8, 16.1, 18.0, 17.7, 18.5, 17.9, 18.8,
                18.3, 18.7, 13.7, 13.7, 13.7, 13.4, 13.2, 13.0, 12.8, 13.8, 13.9, 13.8, 13.8, 13.7,
                13.4, 13.4, 14.4])
BAND_E_LO = ([6.5, 6.5, 6.6, 7.0, 6.3, 6.7, 6.2, 6.6, 6.6, 6.3, 6.3, 6.5, 6.6, 6.5, 6.4, 6.5,
              6.6, 6.8, 6.9, 7.0, 6.9, 6.8, 6.8, 6.7, 6.7, 7.1, 7.2, 7.1, 7.2, 7.2, 7.6, 7.8, 8.0,
              7.8, 7.7, 7.6, 7.6]
             + [7.8, 7.7, 7.3, 8.6, 8.6, 8.7, 8.8, 9.0, 8.4, 9.2, 8.8, 8.8, 9.0, 8.6, 9.3, 9.8,
                9.7, 9.4, 9.3, 9.1, 9.2, 9.2, 9.3, 9.2, 9.3, 9.2, 9.3, 9.3, 9.3, 9.2, 9.3, 9.1, 9.4,
                9.3, 9.3, 9.6, 9.9]
             + [9.5, 9.5, 9.5, 10.3, 11.5, 11.4, 10.4, 10.1, 9.6, 11.5, 11.2, 12.0, 11.7, 12.8,
                12.2, 13.1, 9.6, 10.1, 10.3, 10.3, 10.2, 10.1, 9.9, 12.2, 12.6, 12.6, 12.6, 12.6,
                12.5, 12.5, 13.4])

# ---------------------------------------------------------------------------
T = np.concatenate([np.arange(a, b + 1, STEP) for a, b in ROUND_BOUNDS])
X_RANGE = (-25.5, 535.5)
PROB_RANGE = (0.0, 1.15)
COUNT_RANGE = (-1.35, 28.35)

ALEXIS_SERIES = [(ALEXIS_U4_5, ALEXIS_U4_5_LO), (ALEXIS_U7_5, ALEXIS_U7_5_LO),
                 (ALEXIS_U10_5, ALEXIS_U10_5_LO), (ALEXIS_U13_5, ALEXIS_U13_5_LO),
                 (ALEXIS_U16_5, ALEXIS_U16_5_LO), (ALEXIS_U19_5, ALEXIS_U19_5_LO),
                 (ALEXIS_U22_5, ALEXIS_U22_5_LO), (ALEXIS_U25_5, ALEXIS_U25_5_LO),
                 (ALEXIS_U28_5, ALEXIS_U28_5_LO)]
ERVIN_SERIES = [(ERVIN_U4_5, ERVIN_U4_5_LO), (ERVIN_U7_5, ERVIN_U7_5_LO),
                (ERVIN_U10_5, ERVIN_U10_5_LO), (ERVIN_U13_5, ERVIN_U13_5_LO),
                (ERVIN_U16_5, ERVIN_U16_5_LO), (ERVIN_U19_5, ERVIN_U19_5_LO),
                (ERVIN_U22_5, ERVIN_U22_5_LO), (ERVIN_U25_5, ERVIN_U25_5_LO),
                (ERVIN_U28_5, ERVIN_U28_5_LO)]

bad = []
for tag, group in (("ALEXIS", ALEXIS_SERIES), ("ERVIN", ERVIN_SERIES)):
    for name, (hi, lo) in zip(THRESHOLDS, group):
        if len(hi) != len(T) or len(lo) != len(T):
            bad.append(f"{tag} {name}: {len(hi)}/{len(lo)}")
for name, s in (("TRUTH_A", TRUTH_A), ("TRUTH_E", TRUTH_E), ("PRED_A", PRED_A),
                ("PRED_E", PRED_E), ("BAND_A_HI", BAND_A_HI), ("BAND_A_LO", BAND_A_LO),
                ("BAND_E_HI", BAND_E_HI), ("BAND_E_LO", BAND_E_LO)):
    if len(s) != len(T):
        bad.append(f"{name}: {len(s)}")
if bad:
    raise ValueError(f"expected {len(T)} samples: " + "; ".join(bad))

FONT = "DejaVu Sans"
FRAME_LEFT, FRAME_RIGHT = 93, 23


def style_axes(p):
    p.xgrid.visible = False
    p.ygrid.grid_line_color = "#e3e3e3"
    p.ygrid.grid_line_width = 1.3
    p.outline_line_color = "#222222"
    p.outline_line_width = 1.8
    p.outline_line_alpha = 1.0
    for ax in (p.xaxis[0], p.yaxis[0]):
        ax.axis_line_color = "#222222"
        ax.axis_line_width = 1.8
        ax.major_tick_line_color = "#222222"
        ax.major_tick_line_width = 1.7
        ax.major_tick_out = 7
        ax.major_tick_in = 0
        ax.minor_tick_out = 0
        ax.minor_tick_in = 0
        ax.major_label_text_font = FONT
        ax.major_label_text_font_size = "14.5px"
        ax.major_label_text_color = "#111111"
        ax.axis_label_text_font = FONT
        ax.axis_label_text_font_style = "normal"
        ax.axis_label_text_color = "#111111"
    p.xaxis.ticker = FixedTicker(ticks=TIME_TICKS)
    p.yaxis.major_label_standoff = 8
    p.xaxis.major_label_standoff = 6
    p.title.text_font = FONT
    p.title.text_font_style = "normal"
    p.title.text_font_size = "20.8px"
    p.title.text_color = "#111111"
    p.title.align = "center"
    p.title.standoff = 16


def add_round_marks(p, y_range, label_drop):
    for (start, _), name in zip(ROUND_BOUNDS, ROUND_NAMES):
        p.add_layout(Span(location=start, dimension="height", line_color="#777777",
                          line_width=1.1, line_dash="2 2", line_alpha=0.9))
        p.add_layout(Label(x=start, y=y_range[1] - label_drop * (y_range[1] - y_range[0]),
                           text=name, x_offset=6, text_baseline="top", text_font=FONT,
                           text_font_size="15px", text_color="#666666"))


def prob_panel(fighter, series, height, border_top, border_bottom):
    p = figure(width=2100, height=height, output_backend="svg", toolbar_location=None,
               x_range=Range1d(*X_RANGE), y_range=Range1d(*PROB_RANGE),
               min_border_left=FRAME_LEFT, min_border_right=FRAME_RIGHT,
               min_border_top=border_top, min_border_bottom=border_bottom,
               title=f"{fighter} — {MARKET} (Event {EVENT_ID})")
    style_axes(p)
    p.yaxis.ticker = FixedTicker(ticks=PROB_TICKS)
    p.yaxis.formatter = NumeralTickFormatter(format="0.00")
    # shared time axis: tick marks only, labels live on the bottom panel
    p.xaxis.formatter = CustomJSTickFormatter(code="return ''")
    p.xaxis.major_label_text_font_size = "1px"
    p.xaxis.major_label_standoff = 0
    p.yaxis.axis_label = "Prob"
    p.yaxis.axis_label_text_font_size = "13.5px"
    p.yaxis.axis_label_standoff = 5

    solid = {}
    for name, color, (hi, lo) in zip(THRESHOLDS, LINE_COLORS, series):
        p.varea(x=T, y1=lo, y2=hi, fill_color=color, fill_alpha=0.1)
        solid[name] = p.line(T, hi, line_color=color, line_width=2.2, line_alpha=0.85)
        p.line(T, lo, line_color=color, line_width=1.3, line_alpha=0.6, line_dash="2 2")

    add_round_marks(p, PROB_RANGE, 0.031)

    # four columns, filled row by row
    order = [0, 3, 5, 7, 1, 4, 6, 8, 2]
    legend = Legend(items=[LegendItem(label=THRESHOLDS[i], renderers=[solid[THRESHOLDS[i]]])
                           for i in order],
                    location="top_right", orientation="horizontal", ncols=4,
                    label_text_font=FONT, label_text_font_size="12.3px",
                    glyph_width=27, glyph_height=14, label_height=14, label_width=84,
                    label_standoff=8, spacing=4, padding=5, margin=6,
                    border_line_color="#cccccc", border_line_width=1.5,
                    background_fill_alpha=0.8)
    p.add_layout(legend)
    return p


# frame rows: 51-519, 579-1045, 1106-1419 on a 1500 px tall page
p1 = prob_panel(FIGHTER_A, ALEXIS_SERIES, 535, 51, 16)
p2 = prob_panel(FIGHTER_E, ERVIN_SERIES, 530, 44, 20)

# --- strike count panel ---
p3 = figure(width=2100, height=435, output_backend="svg", toolbar_location=None,
            x_range=Range1d(*X_RANGE), y_range=Range1d(*COUNT_RANGE),
            min_border_left=FRAME_LEFT, min_border_right=FRAME_RIGHT,
            min_border_top=41, min_border_bottom=81)
style_axes(p3)
p3.yaxis.ticker = FixedTicker(ticks=COUNT_TICKS)
p3.yaxis.axis_label = "Count"
p3.yaxis.axis_label_text_font_size = "16px"
p3.yaxis.axis_label_standoff = 7
p3.xaxis.axis_label = "Fight time (seconds)"
p3.xaxis.axis_label_text_font_size = "20.8px"
p3.xaxis.axis_label_standoff = 8

p3.varea(x=T, y1=BAND_A_LO, y2=BAND_A_HI, fill_color="red", fill_alpha=0.14)
p3.line(T, BAND_A_HI, line_color="red", line_alpha=0.14, line_width=1.2)
p3.line(T, BAND_A_LO, line_color="red", line_alpha=0.14, line_width=1.2)
p3.varea(x=T, y1=BAND_E_LO, y2=BAND_E_HI, fill_color="blue", fill_alpha=0.13)
p3.line(T, BAND_E_HI, line_color="blue", line_alpha=0.13, line_width=1.2)
p3.line(T, BAND_E_LO, line_color="blue", line_alpha=0.13, line_width=1.2)

r_ta = p3.line(T, TRUTH_A, line_color="red", line_alpha=0.75, line_width=2.8)
r_te = p3.line(T, TRUTH_E, line_color="blue", line_alpha=0.75, line_width=2.8)
r_pa = p3.line(T, PRED_A, line_color="red", line_alpha=0.6, line_width=2.6, line_dash="3 4")
r_pe = p3.line(T, PRED_E, line_color="blue", line_alpha=0.6, line_width=2.6, line_dash="3 4")

add_round_marks(p3, COUNT_RANGE, 0.036)

legend3 = Legend(items=[
    LegendItem(label=f"Truth {FIGHTER_A}: {TRUTH_A[-1]}", renderers=[r_ta]),
    LegendItem(label=f"Truth {FIGHTER_E}: {TRUTH_E[-1]}", renderers=[r_te]),
    LegendItem(label=f"Predicted {FIGHTER_A}: {PRED_A[-1]:.1f}", renderers=[r_pa]),
    LegendItem(label=f"Predicted {FIGHTER_E}: {PRED_E[-1]:.1f}", renderers=[r_pe]),
], location="top_left", label_text_font=FONT, label_text_font_size="14.5px",
    glyph_width=32, glyph_height=17, label_height=17, label_standoff=11, spacing=5,
    padding=5, margin=7, border_line_color="#cccccc", border_line_width=1.5,
    background_fill_alpha=0.8)
p3.add_layout(legend3)

layout = column(p1, p2, p3, spacing=0)
open("out.html", "w").write(file_html(layout, INLINE))
